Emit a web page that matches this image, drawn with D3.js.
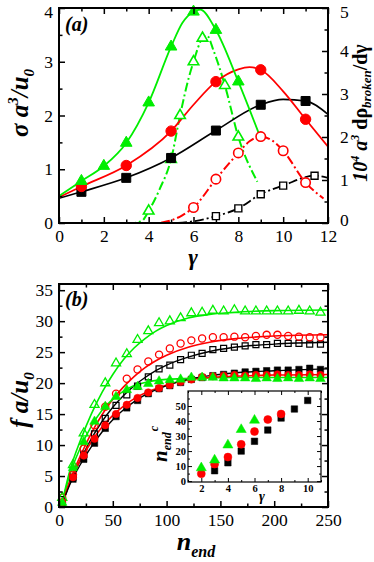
<!DOCTYPE html>
<html><head><meta charset="utf-8">
<script src="https://cdn.jsdelivr.net/npm/d3@7"></script>
<style>
body{margin:0;background:#fff}
svg{display:block}
</style>
</head><body>
<svg id="c" width="374" height="562"></svg>
<script>
// ---------- Panel (a) data ----------
const aXTicks = [0,2,4,6,8,10,12];
const aLeftTicks = [0,1,2,3,4];
const aRightTicks = [0,1,2,3,4,5];
// solid curves (left axis): sigma a^3/u0 vs gamma
const aBlackLine = [[0,0.46],[1,0.58],[3,0.84],[5,1.21],[7,1.72],[9,2.2],[10,2.3],[11,2.27],[12,2.02]];
const aRedLine   = [[0,0.48],[1,0.68],[3,1.07],[5,1.71],[6,2.2],[7,2.63],[8,2.86],[8.5,2.9],[9,2.85],[10,2.45],[11,1.93],[12,1.42]];
const aGreenLine = [[0,0.5],[1,0.78],[2,1.06],[3,1.49],[4,2.24],[5,3.28],[5.5,3.72],[6,3.93],[6.3,3.97],[7,3.59],[8,2.63],[9.05,1.52]];
const aBlackMarks = [[1,0.58],[3,0.84],[5,1.21],[7,1.72],[9,2.2],[11,2.27]];
const aRedMarks   = [[1,0.68],[3,1.07],[5,1.71],[7,2.63],[9,2.85],[11,1.93]];
const aGreenMarks = [[1,0.78],[2,1.06],[3,1.49],[4,2.24],[5,3.28],[6,3.93],[7,3.59],[8,2.63]];
// dash-dot curves (right axis): 10^4 a^3 d rho_broken / d gamma
const aBlackDash = [[0,0],[5,0],[6,0.04],[7,0.16],[8,0.34],[9,0.67],[10,0.87],[11.4,1.1],[12,1.05]];
const aRedDash   = [[0,0],[4.3,0],[5,0.06],[5.5,0.18],[6,0.36],[7,1.02],[8,1.63],[8.5,1.9],[9,2.01],[9.5,1.92],[10,1.68],[11,0.94],[11.8,0.57]];
const aGreenDash = [[0,0],[3.3,0],[3.7,0.05],[4,0.28],[4.5,0.8],[5,1.48],[5.4,2.5],[5.8,3.4],[6,3.75],[6.4,4.3],[6.6,4.36],[6.9,4.0],[7.4,3.2],[8,2.0],[8.85,0.96]];
const aBlackOpen = [[7,0.16],[8,0.34],[9,0.67],[10,0.87],[11.4,1.1]];
const aRedOpen   = [[6,0.36],[7,1.02],[8,1.63],[9,2.01],[10,1.68],[11,0.94]];
const aGreenOpen = [[4,0.28],[5,1.48],[5.4,2.5],[6,3.75],[6.4,4.3],[7.4,3.2],[8,2.0]];

// ---------- Panel (b) data ----------
const bXTicks = [0,50,100,150,200,250];
const bYTicks = [0,5,10,15,20,25,30,35];
const nEnd = [3,13,23,33,43,53,63,73,83,93,103,113,123,133,143,153,163,173,183,193,203,213,223,233,243];
const bGreenOpen  = [1.5,6.8,11.9,16.5,20.0,23.2,24.7,27.0,28.4,29.7,30.0,30.5,31.3,31.4,31.7,31.6,31.8,31.6,31.6,31.6,31.6,31.6,31.7,31.6,31.4];
const bRedOpen    = [1.5,5.2,9.4,13.2,16.2,18.3,20.7,22.2,23.5,24.6,25.6,26.4,26.9,27.2,27.4,27.4,27.5,27.4,27.6,27.8,27.8,27.6,27.5,27.4,27.4];
const bBlackOpen  = [1.2,4.8,8.5,11.8,14.3,16.4,18.1,19.5,21.0,22.3,22.9,23.8,24.5,24.8,25.4,25.6,25.8,26.0,26.2,26.2,26.4,26.4,26.4,26.3,26.3];
const bBlackFill  = [0.6,4.5,7.7,10.3,12.7,14.6,16.0,17.2,18.3,19.1,19.6,20.1,20.6,20.9,21.2,21.4,21.6,21.8,21.9,22.0,22.1,22.1,22.2,22.4,22.2];
const bRedFill    = [0.8,4.8,8.3,11.0,13.2,15.0,16.5,17.6,18.5,19.2,19.7,20.2,20.6,21.0,21.1,21.2,21.3,21.2,21.3,21.3,21.4,21.3,21.3,21.4,21.3];
const bGreenFill  = [0.7,6.3,10.5,13.8,16.2,17.8,18.9,19.4,19.9,20.3,20.5,20.6,20.9,20.9,20.9,20.8,20.8,20.8,20.7,20.8,20.7,20.8,20.7,20.8,20.7];
// fit curves
const bGreenOpenFit = [[2,0],[10,5.8],[20,10.8],[30,15.0],[40,18.5],[50,21.4],[60,23.8],[70,25.7],[80,27.2],[90,28.4],[100,29.3],[120,30.5],[140,31.1],[160,31.4],[200,31.7],[250,31.8]];
const bRedOpenFit   = [[2,0],[10,4.2],[20,8.3],[30,11.9],[40,14.9],[50,17.4],[60,19.4],[70,21.1],[80,22.5],[90,23.6],[100,24.5],[120,25.8],[140,26.6],[160,27.1],[200,27.6],[250,27.8]];
const bBlackOpenFit = [[2,0],[10,3.8],[20,7.6],[30,11.0],[40,13.8],[50,16.1],[60,18.0],[70,19.6],[80,20.9],[90,22.0],[100,22.9],[120,24.2],[140,25.1],[160,25.7],[200,26.3],[250,26.6]];
const bGreenFillFit = [[2,0],[10,5.2],[20,9.6],[30,13.0],[40,15.6],[50,17.4],[60,18.7],[70,19.6],[80,20.1],[100,20.6],[130,20.8],[160,20.9],[250,20.9]];
const bRedFillFit   = [[2,0],[10,4.0],[20,7.6],[30,10.5],[40,12.9],[50,14.8],[60,16.3],[70,17.5],[80,18.4],[90,19.1],[100,19.7],[120,20.5],[140,20.9],[160,21.1],[200,21.3],[250,21.4]];
const bBlackFillFit = [[2,0],[10,3.6],[20,6.9],[30,9.7],[40,12.1],[50,14.1],[60,15.7],[70,17.0],[80,18.1],[90,18.9],[100,19.6],[120,20.6],[140,21.2],[160,21.6],[200,22.0],[250,22.3]];

// ---------- Inset data ----------
const inXTicks = [2,4,6,8,10];
const inYTicks = [0,10,20,30,40,50];
const inGreen = [[2,8.8],[3,14],[4,24],[5,34.3],[6,40.5]];
const inRed   = [[2,4.9],[3,11.3],[4,16],[5,24.5],[6,33],[7,41],[8,44.7]];
const inBlack = [[3,6.9],[4,12.2],[5,20],[6,26.5],[7,34],[8,42],[9,48],[10,53.7]];

const FONT = "'Liberation Serif','DejaVu Serif','Times New Roman',Times,serif";
const GREEN = "#00ee00", RED = "#ff0000", BLACK = "#000000";
const svg = d3.select("#c");

function range(a,b,s){const r=[];for(let v=a;v<=b+1e-9;v+=s)r.push(+v.toFixed(4));return r;}

function ticks(g, axisFn, scale, vals, size, tr, fmt, pad, fs, bold, sw, nudge){
  const ax = axisFn(scale).tickValues(vals).tickSize(size).tickPadding(pad);
  ax.tickFormat(fmt ? fmt : () => "");
  const a = g.append("g").attr("transform", tr).call(ax);
  a.attr("font-family", null).attr("font-size", null);
  a.select(".domain").remove();
  a.selectAll("line").attr("stroke","#000").attr("stroke-width", sw);
  a.selectAll("text").style("font-family", FONT).style("font-size", fs + "px")
    .style("font-weight", bold ? "bold" : "normal").attr("fill","#000");
  if (nudge) a.selectAll("text").attr("dy", d => nudge(d));
  return a;
}

function frame(g, x0,y0,x1,y1,sw){
  g.append("rect").attr("x",x0).attr("y",y0).attr("width",x1-x0).attr("height",y1-y0)
   .attr("fill","none").attr("stroke","#000").attr("stroke-width",sw);
}

function marks(g, pts, type, size, color, filled, sx, sy, sw, fillOpen){
  const sym = d3.symbol().type(type).size(size);
  g.selectAll(null).data(pts).enter().append("path")
    .attr("d", sym)
    .attr("transform", d => `translate(${sx(d[0])},${sy(d[1])})`)
    .attr("fill", filled ? color : (fillOpen || "none"))
    .attr("stroke", color).attr("stroke-width", sw);
}

function curve(g, pts, color, sx, sy, sw, dash){
  const line = d3.line().x(d=>sx(d[0])).y(d=>sy(d[1])).curve(d3.curveMonotoneX);
  const p = g.append("path").datum(pts).attr("d", line).attr("fill","none")
    .attr("stroke", color).attr("stroke-width", sw);
  if (dash) p.attr("stroke-dasharray", dash);
}

function label(g, tr, anchor, size, parts){
  const t = g.append("text").attr("transform", tr).attr("text-anchor", anchor)
    .style("font-family", FONT).style("font-size", size + "px").style("font-weight","bold");
  parts.forEach(p => {
    const s = t.append("tspan").text(p.t);
    if (p.dy) s.attr("dy", p.dy);
    if (p.dx) s.attr("dx", p.dx);
    if (p.fs) s.style("font-size", p.fs + "px");
    s.style("font-style", p.up ? "normal" : "italic");
  });
  return t;
}

const TF = 17.5; // tick label size

// ================= Panel (a) =================
const xA = d3.scaleLinear().domain([0,12]).range([59,328]);
const yAL = d3.scaleLinear().domain([0,4]).range([223,8]);
const yAR = d3.scaleLinear().domain([0,5]).range([223,8]);
const gA = svg.append("g");
svg.append("clipPath").attr("id","clipA").append("rect").attr("x",59).attr("y",8).attr("width",269).attr("height",215);
const pA = gA.append("g").attr("clip-path","url(#clipA)");

const dd = "9,3,2,3";
curve(pA, aBlackDash, BLACK, xA, yAR, 1.8, dd);
curve(pA, aRedDash, RED, xA, yAR, 2, dd);
curve(pA, aGreenDash, GREEN, xA, yAR, 2, dd);
curve(pA, aBlackLine, BLACK, xA, yAL, 1.6);
curve(pA, aRedLine, RED, xA, yAL, 1.8);
curve(pA, aGreenLine, GREEN, xA, yAL, 1.8);
marks(gA, aBlackOpen, d3.symbolSquare, 49, BLACK, false, xA, yAR, 1.4, "#fff");
marks(gA, aRedOpen, d3.symbolCircle, 70, RED, false, xA, yAR, 1.6, "#fff");
marks(gA, aGreenOpen, d3.symbolTriangle, 48, GREEN, false, xA, yAR, 1.6, "#fff");
marks(gA, aBlackMarks, d3.symbolSquare, 81, BLACK, true, xA, yAL, 1);
marks(gA, aRedMarks, d3.symbolCircle, 85, RED, true, xA, yAL, 1);
marks(gA, aGreenMarks, d3.symbolTriangle, 58, GREEN, true, xA, yAL, 1);

const nudgeL = d => d === 4 ? "0.55em" : "0.32em";
const nudgeR = d => d === 5 ? "0.55em" : (d === 0 ? "0.12em" : "0.32em");
ticks(gA, d3.axisBottom, xA, aXTicks, -6, "translate(0,223)", d3.format("d"), 7, TF, false, 1.5);
ticks(gA, d3.axisBottom, xA, range(1,11,2), -3.5, "translate(0,223)", null, 7, TF, false, 1.5);
ticks(gA, d3.axisTop, xA, aXTicks, -6, "translate(0,8)", null, 7, TF, false, 1.5);
ticks(gA, d3.axisTop, xA, range(1,11,2), -3.5, "translate(0,8)", null, 7, TF, false, 1.5);
ticks(gA, d3.axisLeft, yAL, aLeftTicks, -6, "translate(59,0)", d3.format("d"), 6, TF, false, 1.5, nudgeL);
ticks(gA, d3.axisLeft, yAL, range(0.5,3.5,1), -3.5, "translate(59,0)", null, 6, TF, false, 1.5);
ticks(gA, d3.axisRight, yAR, aRightTicks, -6, "translate(328,0)", d3.format("d"), 12, TF, false, 1.5, nudgeR);
ticks(gA, d3.axisRight, yAR, range(0.5,4.5,1), -3.5, "translate(328,0)", null, 12, TF, false, 1.5);
frame(gA, 59,8,328,223,2);

label(gA, "translate(65,31)", "start", 20, [{t:"(a)"}]);
label(gA, "translate(28,103) rotate(-90)", "middle", 25, [
  {t:"σ a"}, {t:"3", dy:-10, fs:15}, {t:"/u", dy:10}, {t:"0", dy:6, fs:15}]);
label(gA, "translate(367,113) rotate(-90)", "middle", 20, [
  {t:"10"}, {t:"4", dy:-8, fs:12}, {t:" a", dy:8}, {t:"3", dy:-8, fs:12},
  {t:" dρ", dy:8, up:true}, {t:"broken", dy:4, fs:13}, {t:"/dγ", dy:-4, up:true}]);
label(gA, "translate(193,265)", "middle", 23, [{t:"γ"}]);

// ================= Panel (b) =================
const xB = d3.scaleLinear().domain([0,250]).range([59,328]);
const yB = d3.scaleLinear().domain([0,36]).range([507,284]);
const gB = svg.append("g");

curve(gB, bGreenOpenFit, GREEN, xB, yB, 1.6);
curve(gB, bRedOpenFit, RED, xB, yB, 1.6);
curve(gB, bBlackOpenFit, BLACK, xB, yB, 1.4);
curve(gB, bGreenFillFit, GREEN, xB, yB, 1.6);
curve(gB, bRedFillFit, RED, xB, yB, 1.6);
curve(gB, bBlackFillFit, BLACK, xB, yB, 1.4);

const zip = arr => nEnd.map((n,i)=>[n,arr[i]]);
marks(gB, zip(bBlackOpen), d3.symbolSquare, 36, BLACK, false, xB, yB, 1.2);
marks(gB, zip(bRedOpen), d3.symbolCircle, 40, RED, false, xB, yB, 1.3);
marks(gB, zip(bGreenOpen), d3.symbolTriangle, 36, GREEN, false, xB, yB, 1.3);
marks(gB, zip(bBlackFill), d3.symbolSquare, 42, BLACK, true, xB, yB, 0.5);
marks(gB, zip(bRedFill), d3.symbolCircle, 44, RED, true, xB, yB, 0.5);
marks(gB, zip(bGreenFill), d3.symbolTriangle, 40, GREEN, true, xB, yB, 0.5);

ticks(gB, d3.axisBottom, xB, bXTicks, -6, "translate(0,507)", d3.format("d"), 7, TF, false, 1.5);
ticks(gB, d3.axisBottom, xB, range(25,225,50), -3.5, "translate(0,507)", null, 7, TF, false, 1.5);
ticks(gB, d3.axisTop, xB, bXTicks, -6, "translate(0,284)", null, 7, TF, false, 1.5);
ticks(gB, d3.axisTop, xB, range(25,225,50), -3.5, "translate(0,284)", null, 7, TF, false, 1.5);
ticks(gB, d3.axisLeft, yB, bYTicks, -6, "translate(59,0)", d3.format("d"), 6, TF, false, 1.5);
ticks(gB, d3.axisLeft, yB, range(2.5,32.5,5), -3.5, "translate(59,0)", null, 6, TF, false, 1.5);
ticks(gB, d3.axisRight, yB, bYTicks, -6, "translate(328,0)", null, 6, TF, false, 1.5);
ticks(gB, d3.axisRight, yB, range(2.5,32.5,5), -3.5, "translate(328,0)", null, 6, TF, false, 1.5);
frame(gB, 59,284,328,507,2);

label(gB, "translate(65,306)", "start", 20, [{t:"(b)"}]);
label(gB, "translate(28,400) rotate(-90)", "middle", 25, [{t:"f a/u"}, {t:"0", dy:6, fs:15}]);
label(gB, "translate(196,550)", "middle", 26, [{t:"n"}, {t:"end", dy:7, fs:16}]);

// ================= Inset =================
const xI = d3.scaleLinear().domain([1,11]).range([188,321]);
const yI = d3.scaleLinear().domain([-0.6,60]).range([482,391]);
const gI = svg.append("g");
gI.append("rect").attr("x",188).attr("y",391).attr("width",133).attr("height",91).attr("fill","#fff");
marks(gI, inBlack, d3.symbolSquare, 42, BLACK, true, xI, yI, 0.5);
marks(gI, inRed, d3.symbolCircle, 50, RED, true, xI, yI, 0.5);
marks(gI, inGreen, d3.symbolTriangle, 44, GREEN, true, xI, yI, 0.5);
ticks(gI, d3.axisBottom, xI, inXTicks, -4, "translate(0,482)", d3.format("d"), 3, 10.5, true, 1);
ticks(gI, d3.axisBottom, xI, range(1,11,2), -2, "translate(0,482)", null, 3, 10.5, true, 1);
ticks(gI, d3.axisTop, xI, inXTicks, -4, "translate(0,391)", null, 3, 10.5, true, 1);
ticks(gI, d3.axisTop, xI, range(1,11,2), -2, "translate(0,391)", null, 3, 10.5, true, 1);
ticks(gI, d3.axisLeft, yI, inYTicks, -4, "translate(188,0)", d3.format("d"), 2, 10.5, true, 1);
ticks(gI, d3.axisLeft, yI, range(5,55,10), -2, "translate(188,0)", null, 2, 10.5, true, 1);
ticks(gI, d3.axisRight, yI, inYTicks, -4, "translate(321,0)", null, 2, 10.5, true, 1);
ticks(gI, d3.axisRight, yI, range(5,55,10), -2, "translate(321,0)", null, 2, 10.5, true, 1);
frame(gI, 188,391,321,482,1.2);
label(gI, "translate(167,462) rotate(-90)", "start", 21, [{t:"n"}, {t:"end", dy:4, fs:12}, {t:"c", dy:-13, dx:1, fs:12}]);
label(gI, "translate(262,501)", "middle", 14, [{t:"γ"}]);
</script>
</body></html>
